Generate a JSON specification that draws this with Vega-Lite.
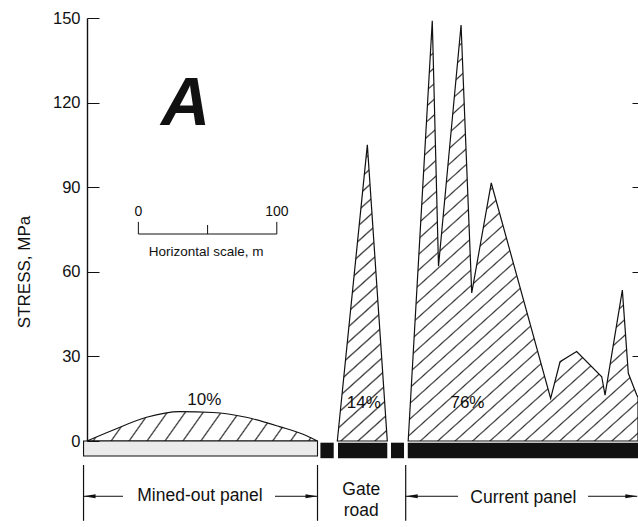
{
  "$schema": "https://vega.github.io/schema/vega-lite/v6.json",
  "width": 551,
  "height": 423,
  "autosize": {"type": "none"},
  "padding": {"left": 87, "top": 18, "right": 0, "bottom": 86},
  "background": "white",
  "config": {
    "view": {"stroke": null},
    "font": "Liberation Sans",
    "axis": {"labelFont": "Liberation Sans", "titleFont": "Liberation Sans", "labelColor": "#111", "titleColor": "#111", "tickColor": "#111", "domainColor": "#111"},
    "text": {"font": "Liberation Sans", "color": "#111"}
  },
  "datasets": {
    "currentPanel": [
      {"m": 232.0, "stress": 0},
      {"m": 249.4, "stress": 149},
      {"m": 253.9, "stress": 62},
      {"m": 270.2, "stress": 147.5},
      {"m": 277.9, "stress": 52.5},
      {"m": 292.0, "stress": 91.5},
      {"m": 334.9, "stress": 15.1},
      {"m": 341.7, "stress": 28.1},
      {"m": 353.7, "stress": 31.7},
      {"m": 371.8, "stress": 22.8},
      {"m": 374.2, "stress": 16.3},
      {"m": 386.7, "stress": 53.5},
      {"m": 391.0, "stress": 24.0},
      {"m": 397.1, "stress": 16.3},
      {"m": 398.0, "stress": 15.5}
    ],
    "gateRoad": [
      {"m": 180.8, "stress": 0},
      {"m": 202.5, "stress": 105},
      {"m": 216.9, "stress": 0}
    ],
    "minedOut": [
      {"m": 0, "stress": 0},
      {"m": 19, "stress": 3.9},
      {"m": 43, "stress": 8.4},
      {"m": 67, "stress": 10.4},
      {"m": 91, "stress": 10.1},
      {"m": 115, "stress": 8.4},
      {"m": 139, "stress": 5.1},
      {"m": 159, "stress": 1.8},
      {"m": 166.5, "stress": 0}
    ],
    "goaf": [{"start": -2.5, "end": 166.5}],
    "pillars": [
      {"start": 168.6, "end": 178.2},
      {"start": 181.3, "end": 216.9},
      {"start": 219.6, "end": 229.0},
      {"start": 231.7, "end": 398.0}
    ],
    "boundaries": [{"m": -2.5}, {"m": 166.5}, {"m": 230.2}],
    "arrows": [
      {"from": -2.5, "to": 26},
      {"from": 135.8, "to": 166.5},
      {"from": 230.2, "to": 268},
      {"from": 361.9, "to": 397.5}
    ],
    "arrowheads": [
      {"m": -2.5, "dir": "left"},
      {"m": 166.5, "dir": "right"},
      {"m": 230.2, "dir": "left"},
      {"m": 397.5, "dir": "right"}
    ],
    "zones": [
      {"label": "Mined-out panel", "m": 81.6, "level": -19.4},
      {"label": "Gate\nroad", "m": 198.1, "level": -17.4},
      {"label": "Current panel", "m": 315.2, "level": -20.2}
    ],
    "shares": [
      {"label": "10%", "m": 84.7, "stress": 14.4},
      {"label": "14%", "m": 199.9, "stress": 13.4},
      {"label": "76%", "m": 274.8, "stress": 13.4}
    ],
    "panelTag": [{"label": "A", "m": 71.1, "stress": 112.1}],
    "scaleBar": [
      {"m": 37.1, "label": "0"},
      {"m": 87.1, "label": ""},
      {"m": 137.1, "label": "100"}
    ],
    "scaleCaption": [{"label": "Horizontal scale, m", "m": 86, "stress": 67.1}]
  },
  "resolve": {"axis": {"y": "independent"}},
  "layer": [
    {
      "data": {"name": "currentPanel"},
      "mark": {
        "type": "area", "fillOpacity": 1, "stroke": "#111", "strokeWidth": 1.2, "strokeJoin": "miter",
        "fill": {"gradient": "linear", "x1": 0, "y1": 0, "x2": 0.5915, "y2": 1.2011, "stops": [
          {"offset": 0.01, "color": "#fff"}, {"offset": 0.0125, "color": "#333"}, {"offset": 0.015, "color": "#fff"},
          {"offset": 0.035, "color": "#fff"}, {"offset": 0.0375, "color": "#333"}, {"offset": 0.04, "color": "#fff"},
          {"offset": 0.06, "color": "#fff"}, {"offset": 0.0625, "color": "#333"}, {"offset": 0.065, "color": "#fff"},
          {"offset": 0.085, "color": "#fff"}, {"offset": 0.0875, "color": "#333"}, {"offset": 0.09, "color": "#fff"},
          {"offset": 0.11, "color": "#fff"}, {"offset": 0.1125, "color": "#333"}, {"offset": 0.115, "color": "#fff"},
          {"offset": 0.135, "color": "#fff"}, {"offset": 0.1375, "color": "#333"}, {"offset": 0.14, "color": "#fff"},
          {"offset": 0.16, "color": "#fff"}, {"offset": 0.1625, "color": "#333"}, {"offset": 0.165, "color": "#fff"},
          {"offset": 0.185, "color": "#fff"}, {"offset": 0.1875, "color": "#333"}, {"offset": 0.19, "color": "#fff"},
          {"offset": 0.21, "color": "#fff"}, {"offset": 0.2125, "color": "#333"}, {"offset": 0.215, "color": "#fff"},
          {"offset": 0.235, "color": "#fff"}, {"offset": 0.2375, "color": "#333"}, {"offset": 0.24, "color": "#fff"},
          {"offset": 0.26, "color": "#fff"}, {"offset": 0.2625, "color": "#333"}, {"offset": 0.265, "color": "#fff"},
          {"offset": 0.285, "color": "#fff"}, {"offset": 0.2875, "color": "#333"}, {"offset": 0.29, "color": "#fff"},
          {"offset": 0.31, "color": "#fff"}, {"offset": 0.3125, "color": "#333"}, {"offset": 0.315, "color": "#fff"},
          {"offset": 0.335, "color": "#fff"}, {"offset": 0.3375, "color": "#333"}, {"offset": 0.34, "color": "#fff"},
          {"offset": 0.36, "color": "#fff"}, {"offset": 0.3625, "color": "#333"}, {"offset": 0.365, "color": "#fff"},
          {"offset": 0.385, "color": "#fff"}, {"offset": 0.3875, "color": "#333"}, {"offset": 0.39, "color": "#fff"},
          {"offset": 0.41, "color": "#fff"}, {"offset": 0.4125, "color": "#333"}, {"offset": 0.415, "color": "#fff"},
          {"offset": 0.435, "color": "#fff"}, {"offset": 0.4375, "color": "#333"}, {"offset": 0.44, "color": "#fff"},
          {"offset": 0.46, "color": "#fff"}, {"offset": 0.4625, "color": "#333"}, {"offset": 0.465, "color": "#fff"},
          {"offset": 0.485, "color": "#fff"}, {"offset": 0.4875, "color": "#333"}, {"offset": 0.49, "color": "#fff"},
          {"offset": 0.51, "color": "#fff"}, {"offset": 0.5125, "color": "#333"}, {"offset": 0.515, "color": "#fff"},
          {"offset": 0.535, "color": "#fff"}, {"offset": 0.5375, "color": "#333"}, {"offset": 0.54, "color": "#fff"},
          {"offset": 0.56, "color": "#fff"}, {"offset": 0.5625, "color": "#333"}, {"offset": 0.565, "color": "#fff"},
          {"offset": 0.585, "color": "#fff"}, {"offset": 0.5875, "color": "#333"}, {"offset": 0.59, "color": "#fff"},
          {"offset": 0.61, "color": "#fff"}, {"offset": 0.6125, "color": "#333"}, {"offset": 0.615, "color": "#fff"},
          {"offset": 0.635, "color": "#fff"}, {"offset": 0.6375, "color": "#333"}, {"offset": 0.64, "color": "#fff"},
          {"offset": 0.66, "color": "#fff"}, {"offset": 0.6625, "color": "#333"}, {"offset": 0.665, "color": "#fff"},
          {"offset": 0.685, "color": "#fff"}, {"offset": 0.6875, "color": "#333"}, {"offset": 0.69, "color": "#fff"},
          {"offset": 0.71, "color": "#fff"}, {"offset": 0.7125, "color": "#333"}, {"offset": 0.715, "color": "#fff"},
          {"offset": 0.735, "color": "#fff"}, {"offset": 0.7375, "color": "#333"}, {"offset": 0.74, "color": "#fff"},
          {"offset": 0.76, "color": "#fff"}, {"offset": 0.7625, "color": "#333"}, {"offset": 0.765, "color": "#fff"},
          {"offset": 0.785, "color": "#fff"}, {"offset": 0.7875, "color": "#333"}, {"offset": 0.79, "color": "#fff"},
          {"offset": 0.81, "color": "#fff"}, {"offset": 0.8125, "color": "#333"}, {"offset": 0.815, "color": "#fff"},
          {"offset": 0.835, "color": "#fff"}, {"offset": 0.8375, "color": "#333"}, {"offset": 0.84, "color": "#fff"},
          {"offset": 0.86, "color": "#fff"}, {"offset": 0.8625, "color": "#333"}, {"offset": 0.865, "color": "#fff"},
          {"offset": 0.885, "color": "#fff"}, {"offset": 0.8875, "color": "#333"}, {"offset": 0.89, "color": "#fff"},
          {"offset": 0.91, "color": "#fff"}, {"offset": 0.9125, "color": "#333"}, {"offset": 0.915, "color": "#fff"},
          {"offset": 0.935, "color": "#fff"}, {"offset": 0.9375, "color": "#333"}, {"offset": 0.94, "color": "#fff"},
          {"offset": 0.96, "color": "#fff"}, {"offset": 0.9625, "color": "#333"}, {"offset": 0.965, "color": "#fff"},
          {"offset": 0.985, "color": "#fff"}, {"offset": 0.9875, "color": "#333"}, {"offset": 0.99, "color": "#fff"}
        ]}
      },
      "encoding": {
        "x": {"field": "m", "type": "quantitative", "scale": {"domain": [0, 398], "nice": false, "zero": false},
              "axis": {"orient": "top", "title": null, "labels": false, "ticks": false, "grid": false, "domainWidth": 1.4, "zindex": 1}},
        "y": {"field": "stress", "type": "quantitative", "scale": {"domain": [0, 150], "nice": false},
              "axis": {"values": [0, 30, 60, 90, 120, 150], "title": "STRESS, MPa", "titleFontSize": 17, "titleFontWeight": "normal",
                       "titleX": -63, "titleY": 253.5, "titleAngle": -90, "titleBaseline": "middle", "titleAlign": "center",
                       "labelFontSize": 16.5, "labelPadding": 19, "labelFlush": false, "labelOverlap": false,
                       "tickSize": -12, "tickWidth": 1, "domainWidth": 1.4, "grid": false, "zindex": 1}}
      }
    },
    {
      "data": {"name": "gateRoad"},
      "mark": {
        "type": "area", "fillOpacity": 1, "stroke": "#111", "strokeWidth": 1.2, "strokeJoin": "miter",
        "fill": {"gradient": "linear", "x1": 0, "y1": 0, "x2": 0.1713, "y2": 1.1262, "stops": [
          {"offset": 0.0175, "color": "#fff"}, {"offset": 0.0225, "color": "#333"}, {"offset": 0.0275, "color": "#fff"},
          {"offset": 0.0625, "color": "#fff"}, {"offset": 0.0675, "color": "#333"}, {"offset": 0.0725, "color": "#fff"},
          {"offset": 0.1075, "color": "#fff"}, {"offset": 0.1125, "color": "#333"}, {"offset": 0.1175, "color": "#fff"},
          {"offset": 0.1525, "color": "#fff"}, {"offset": 0.1575, "color": "#333"}, {"offset": 0.1625, "color": "#fff"},
          {"offset": 0.1975, "color": "#fff"}, {"offset": 0.2025, "color": "#333"}, {"offset": 0.2075, "color": "#fff"},
          {"offset": 0.2425, "color": "#fff"}, {"offset": 0.2475, "color": "#333"}, {"offset": 0.2525, "color": "#fff"},
          {"offset": 0.2875, "color": "#fff"}, {"offset": 0.2925, "color": "#333"}, {"offset": 0.2975, "color": "#fff"},
          {"offset": 0.3325, "color": "#fff"}, {"offset": 0.3375, "color": "#333"}, {"offset": 0.3425, "color": "#fff"},
          {"offset": 0.3775, "color": "#fff"}, {"offset": 0.3825, "color": "#333"}, {"offset": 0.3875, "color": "#fff"},
          {"offset": 0.4225, "color": "#fff"}, {"offset": 0.4275, "color": "#333"}, {"offset": 0.4325, "color": "#fff"},
          {"offset": 0.4675, "color": "#fff"}, {"offset": 0.4725, "color": "#333"}, {"offset": 0.4775, "color": "#fff"},
          {"offset": 0.5125, "color": "#fff"}, {"offset": 0.5175, "color": "#333"}, {"offset": 0.5225, "color": "#fff"},
          {"offset": 0.5575, "color": "#fff"}, {"offset": 0.5625, "color": "#333"}, {"offset": 0.5675, "color": "#fff"},
          {"offset": 0.6025, "color": "#fff"}, {"offset": 0.6075, "color": "#333"}, {"offset": 0.6125, "color": "#fff"},
          {"offset": 0.6475, "color": "#fff"}, {"offset": 0.6525, "color": "#333"}, {"offset": 0.6575, "color": "#fff"},
          {"offset": 0.6925, "color": "#fff"}, {"offset": 0.6975, "color": "#333"}, {"offset": 0.7025, "color": "#fff"},
          {"offset": 0.7375, "color": "#fff"}, {"offset": 0.7425, "color": "#333"}, {"offset": 0.7475, "color": "#fff"},
          {"offset": 0.7825, "color": "#fff"}, {"offset": 0.7875, "color": "#333"}, {"offset": 0.7925, "color": "#fff"},
          {"offset": 0.8275, "color": "#fff"}, {"offset": 0.8325, "color": "#333"}, {"offset": 0.8375, "color": "#fff"},
          {"offset": 0.8725, "color": "#fff"}, {"offset": 0.8775, "color": "#333"}, {"offset": 0.8825, "color": "#fff"},
          {"offset": 0.9175, "color": "#fff"}, {"offset": 0.9225, "color": "#333"}, {"offset": 0.9275, "color": "#fff"},
          {"offset": 0.9625, "color": "#fff"}, {"offset": 0.9675, "color": "#333"}, {"offset": 0.9725, "color": "#fff"}
        ]}
      },
      "encoding": {
        "x": {"field": "m", "type": "quantitative", "axis": null},
        "y": {"field": "stress", "type": "quantitative",
              "axis": {"orient": "right", "title": null, "labels": false, "domain": false, "grid": false,
                       "values": [30, 60, 90, 120], "tickSize": -6, "tickWidth": 1, "zindex": 1}}
      }
    },
    {
      "data": {"name": "minedOut"},
      "mark": {
        "type": "area", "interpolate": "monotone", "fillOpacity": 1, "stroke": "#111", "strokeWidth": 1.1,
        "fill": {"gradient": "linear", "x1": 0, "y1": 0, "x2": 1.0813, "y2": 0.0974, "stops": [
          {"offset": 0.0297, "color": "#fff"}, {"offset": 0.0357, "color": "#333"}, {"offset": 0.0417, "color": "#fff"},
          {"offset": 0.1011, "color": "#fff"}, {"offset": 0.1071, "color": "#333"}, {"offset": 0.1131, "color": "#fff"},
          {"offset": 0.1726, "color": "#fff"}, {"offset": 0.1786, "color": "#333"}, {"offset": 0.1846, "color": "#fff"},
          {"offset": 0.244, "color": "#fff"}, {"offset": 0.25, "color": "#333"}, {"offset": 0.256, "color": "#fff"},
          {"offset": 0.3154, "color": "#fff"}, {"offset": 0.3214, "color": "#333"}, {"offset": 0.3274, "color": "#fff"},
          {"offset": 0.3869, "color": "#fff"}, {"offset": 0.3929, "color": "#333"}, {"offset": 0.3989, "color": "#fff"},
          {"offset": 0.4583, "color": "#fff"}, {"offset": 0.4643, "color": "#333"}, {"offset": 0.4703, "color": "#fff"},
          {"offset": 0.5297, "color": "#fff"}, {"offset": 0.5357, "color": "#333"}, {"offset": 0.5417, "color": "#fff"},
          {"offset": 0.6011, "color": "#fff"}, {"offset": 0.6071, "color": "#333"}, {"offset": 0.6131, "color": "#fff"},
          {"offset": 0.6726, "color": "#fff"}, {"offset": 0.6786, "color": "#333"}, {"offset": 0.6846, "color": "#fff"},
          {"offset": 0.744, "color": "#fff"}, {"offset": 0.75, "color": "#333"}, {"offset": 0.756, "color": "#fff"},
          {"offset": 0.8154, "color": "#fff"}, {"offset": 0.8214, "color": "#333"}, {"offset": 0.8274, "color": "#fff"},
          {"offset": 0.8869, "color": "#fff"}, {"offset": 0.8929, "color": "#333"}, {"offset": 0.8989, "color": "#fff"},
          {"offset": 0.9583, "color": "#fff"}, {"offset": 0.9643, "color": "#333"}, {"offset": 0.9703, "color": "#fff"}
        ]}
      },
      "encoding": {
        "x": {"field": "m", "type": "quantitative", "axis": null},
        "y": {"field": "stress", "type": "quantitative", "axis": null}
      }
    },
    {
      "data": {"name": "goaf"},
      "mark": {"type": "rect", "fill": "#ebebeb", "stroke": "#111", "strokeWidth": 1.1},
      "encoding": {
        "x": {"field": "start", "type": "quantitative", "axis": null},
        "x2": {"field": "end"},
        "y": {"datum": 0, "type": "quantitative", "axis": null},
        "y2": {"datum": -5.3}
      }
    },
    {
      "data": {"name": "pillars"},
      "mark": {"type": "rect", "fill": "#111"},
      "encoding": {
        "x": {"field": "start", "type": "quantitative", "axis": null},
        "x2": {"field": "end"},
        "y": {"datum": -0.6, "type": "quantitative", "axis": null},
        "y2": {"datum": -6.1}
      }
    },
    {
      "data": {"name": "boundaries"},
      "mark": {"type": "rule", "color": "#111", "strokeWidth": 1.2},
      "encoding": {
        "x": {"field": "m", "type": "quantitative", "axis": null},
        "y": {"datum": -8.5, "type": "quantitative", "axis": null},
        "y2": {"datum": -28.3}
      }
    },
    {
      "data": {"name": "arrows"},
      "mark": {"type": "rule", "color": "#111", "strokeWidth": 1},
      "encoding": {
        "x": {"field": "from", "type": "quantitative", "axis": null},
        "x2": {"field": "to"},
        "y": {"datum": -19.6, "type": "quantitative", "axis": null}
      }
    },
    {
      "data": {"name": "arrowheads"},
      "mark": {"type": "point", "filled": true, "opacity": 1, "color": "#111", "size": 400},
      "encoding": {
        "x": {"field": "m", "type": "quantitative", "axis": null},
        "y": {"datum": -19.6, "type": "quantitative", "axis": null},
        "shape": {"field": "dir", "type": "nominal", "legend": null,
                  "scale": {"domain": ["left", "right"], "range": ["M0,0L1.2,-0.2L1.2,0.2Z", "M0,0L-1.2,-0.2L-1.2,0.2Z"]}}
      }
    },
    {
      "data": {"name": "zones"},
      "mark": {"type": "text", "fontSize": 17.5, "lineBreak": "\n", "lineHeight": 21, "baseline": "middle", "align": "center"},
      "encoding": {
        "x": {"field": "m", "type": "quantitative", "axis": null},
        "y": {"field": "level", "type": "quantitative", "axis": null},
        "text": {"field": "label"}
      }
    },
    {
      "data": {"name": "shares"},
      "mark": {"type": "text", "fontSize": 17, "baseline": "middle", "align": "center"},
      "encoding": {
        "x": {"field": "m", "type": "quantitative", "axis": null},
        "y": {"field": "stress", "type": "quantitative", "axis": null},
        "text": {"field": "label"}
      }
    },
    {
      "data": {"name": "panelTag"},
      "mark": {"type": "text", "fontSize": 68, "fontWeight": "bold", "fontStyle": "italic", "baseline": "alphabetic", "align": "center"},
      "encoding": {
        "x": {"field": "m", "type": "quantitative", "axis": null},
        "y": {"field": "stress", "type": "quantitative", "axis": null},
        "text": {"field": "label"}
      }
    },
    {
      "data": {"name": "scaleBar"},
      "mark": {"type": "rule", "color": "#111", "strokeWidth": 1},
      "encoding": {
        "x": {"aggregate": "min", "field": "m", "type": "quantitative", "axis": null},
        "x2": {"aggregate": "max", "field": "m"},
        "y": {"datum": 73.4, "type": "quantitative", "axis": null}
      }
    },
    {
      "data": {"name": "scaleBar"},
      "transform": [{"filter": "datum.label != ''"}],
      "mark": {"type": "rule", "color": "#111", "strokeWidth": 1},
      "encoding": {
        "x": {"field": "m", "type": "quantitative", "axis": null},
        "y": {"datum": 73.4, "type": "quantitative", "axis": null},
        "y2": {"datum": 77.7}
      }
    },
    {
      "data": {"name": "scaleBar"},
      "transform": [{"filter": "datum.label == ''"}],
      "mark": {"type": "rule", "color": "#111", "strokeWidth": 1},
      "encoding": {
        "x": {"field": "m", "type": "quantitative", "axis": null},
        "y": {"datum": 73.4, "type": "quantitative", "axis": null},
        "y2": {"datum": 76.6}
      }
    },
    {
      "data": {"name": "scaleBar"},
      "transform": [{"filter": "datum.label != ''"}],
      "mark": {"type": "text", "fontSize": 14, "baseline": "middle", "align": "center"},
      "encoding": {
        "x": {"field": "m", "type": "quantitative", "axis": null},
        "y": {"datum": 81.3, "type": "quantitative", "axis": null},
        "text": {"field": "label"}
      }
    },
    {
      "data": {"name": "scaleCaption"},
      "mark": {"type": "text", "fontSize": 13.5, "baseline": "middle", "align": "center"},
      "encoding": {
        "x": {"field": "m", "type": "quantitative", "axis": null},
        "y": {"field": "stress", "type": "quantitative", "axis": null},
        "text": {"field": "label"}
      }
    }
  ]
}
